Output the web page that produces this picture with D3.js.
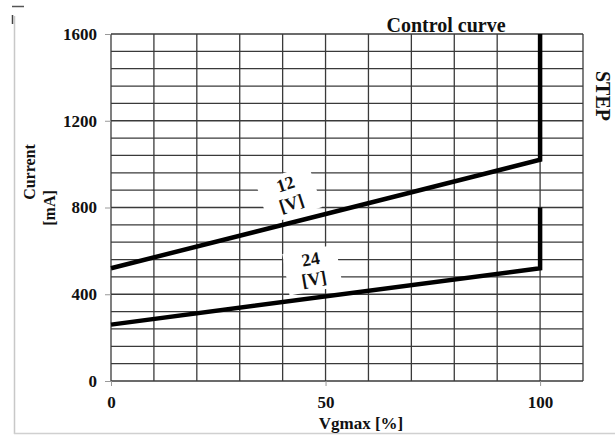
<!DOCTYPE html>
<meta charset="utf-8">
<style>

body {
  margin: 0;
  background: #fff;
}

text {
  font-family: "Liberation Serif", "Times New Roman", serif;
  font-weight: bold;
  fill: #111;
}

.grid line {
  stroke: #3a3a3a;
  stroke-width: 1.3;
}

.curve {
  fill: none;
  stroke: #000;
  stroke-width: 4.5;
  stroke-linejoin: miter;
}

.axis path {
  display: none;
}

.axis line {
  stroke: #999;
}

.axis text {
  font-family: "Liberation Serif", "Times New Roman", serif;
  font-weight: bold;
  font-size: 17px;
  fill: #111;
}

</style>
<svg width="615" height="436"></svg>
<script src="https://d3js.org/d3.v7.min.js"></script>
<script>

// data
var vgmax = [0, 100, 100];
var current12 = [520, 1020, 1600];
var current24 = [260, 520, 800];
var xTicks = [0, 50, 100];
var yTicks = [0, 400, 800, 1200, 1600];
var curveLabels = ["12", "24"];

var svg = d3.select("svg");

var x = d3.scaleLinear()
    .domain([0, 110])
    .range([111, 583]);

var y = d3.scaleLinear()
    .domain([0, 1600])
    .range([381, 34]);

// frame bits from the screenshot
svg.append("line").attr("x1", 14.5).attr("x2", 14.5).attr("y1", 16).attr("y2", 434)
  .attr("stroke", "#c8c8c8").attr("stroke-width", 1.5);
svg.append("line").attr("x1", 14).attr("x2", 615).attr("y1", 433.5).attr("y2", 433.5)
  .attr("stroke", "#d0d0d0").attr("stroke-width", 1.5);
svg.append("line").attr("x1", 12).attr("x2", 24).attr("y1", 6.5).attr("y2", 6.5)
  .attr("stroke", "#555").attr("stroke-width", 1.5);
svg.append("line").attr("x1", 12.5).attr("x2", 12.5).attr("y1", 15).attr("y2", 24)
  .attr("stroke", "#444").attr("stroke-width", 1.5);

// grid
var grid = svg.append("g").attr("class", "grid");

grid.selectAll(".v")
  .data(d3.range(0, 111, 10))
  .enter()
  .append("line")
    .attr("x1", function(d) { return x(d); })
    .attr("x2", function(d) { return x(d); })
    .attr("y1", y(1600))
    .attr("y2", y(0));

grid.selectAll(".h")
  .data(d3.range(0, 1601, 80))
  .enter()
  .append("line")
    .attr("x1", x(0))
    .attr("x2", x(110))
    .attr("y1", function(d) { return y(d); })
    .attr("y2", function(d) { return y(d); });

// axes
svg.append("g")
    .attr("class", "axis")
    .attr("transform", "translate(" + x(0) + ",0)")
    .call(d3.axisLeft(y).tickValues(yTicks).tickFormat(d3.format("d")).tickSize(6).tickPadding(8));

svg.append("g")
    .attr("class", "axis")
    .attr("transform", "translate(0," + y(0) + ")")
    .call(d3.axisBottom(x).tickValues(xTicks).tickFormat(d3.format("d")).tickSize(5).tickPadding(10));

// label boxes (white patches over the grid)
var series = [current12, current24];
var labelAt = [[41.5, 855, -18], [47, 507, -10]];

var labels = svg.selectAll(".lbl")
  .data(curveLabels)
  .enter()
  .append("g")
    .attr("class", "lbl")
    .attr("transform", function(d, i) {
      return "translate(" + x(labelAt[i][0]) + "," + y(labelAt[i][1]) + ") rotate(" + labelAt[i][2] + ")";
    });

labels.append("rect")
    .attr("x", function(d, i) { return i == 0 ? -28 : -27; })
    .attr("y", function(d, i) { return i == 0 ? -23 : -22; })
    .attr("width", function(d, i) { return i == 0 ? 56 : 54; })
    .attr("height", function(d, i) { return i == 0 ? 44 : 42; })
    .attr("fill", "#fff");

// curves
var line = d3.line()
    .x(function(d) { return x(d[0]); })
    .y(function(d) { return y(d[1]); });

svg.selectAll(".curve")
  .data(series)
  .enter()
  .append("path")
    .attr("class", "curve")
    .attr("d", function(s) { return line(s.map(function(v, i) { return [vgmax[i], v]; })); });

labels.append("text")
    .attr("text-anchor", "middle")
    .attr("font-size", 18)
    .attr("y", -6)
    .text(function(d) { return d; });

labels.append("text")
    .attr("text-anchor", "middle")
    .attr("font-size", 18)
    .attr("y", 14)
    .text("[V]");

// titles
svg.append("text")
    .attr("x", 446)
    .attr("y", 32)
    .attr("text-anchor", "middle")
    .attr("font-size", 20)
    .text("Control curve");

svg.append("text")
    .attr("transform", "translate(596,96) rotate(90)")
    .attr("text-anchor", "middle")
    .attr("font-size", 20)
    .text("STEP");

svg.append("text")
    .attr("transform", "translate(35,172) rotate(-90)")
    .attr("text-anchor", "middle")
    .attr("font-size", 16)
    .text("Current");

svg.append("text")
    .attr("transform", "translate(55,208) rotate(-90)")
    .attr("text-anchor", "middle")
    .attr("font-size", 16)
    .text("[mA]");

svg.append("text")
    .attr("x", 361)
    .attr("y", 429)
    .attr("text-anchor", "middle")
    .attr("font-size", 17)
    .text("Vgmax [%]");

</script>
